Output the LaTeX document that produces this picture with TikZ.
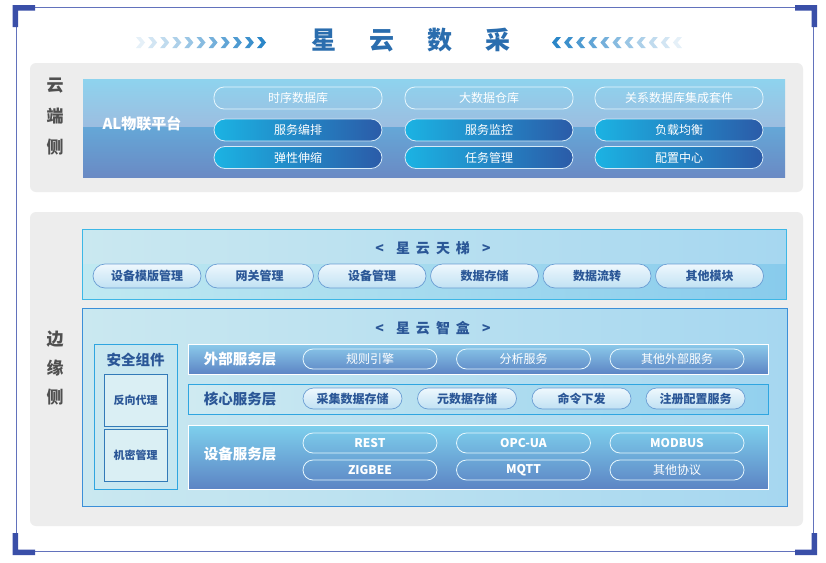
\documentclass[tikz,border=0pt]{standalone}
\usepackage{fontspec}
\newfontfamily\cjk{Noto Sans CJK SC}
\definecolor{brk}{HTML}{3A4FA8}
\definecolor{fline}{HTML}{6272BC}
\definecolor{panel}{HTML}{EDEDED}
\definecolor{ttl}{HTML}{2A6DAE}
\definecolor{chev}{HTML}{2A86C8}
\definecolor{side}{HTML}{505050}
\definecolor{dkb}{HTML}{2B5797}
\definecolor{pillL}{HTML}{1BB3E3}
\definecolor{pillR}{HTML}{2B5BA8}
\definecolor{pillB}{HTML}{D5EAF8}
\definecolor{cloudA}{HTML}{8ED3EE}
\definecolor{cloudB}{HTML}{9CBDE0}
\definecolor{cloudC}{HTML}{65A7D7}
\definecolor{cloudD}{HTML}{6A8AC4}
\definecolor{lbL}{HTML}{CAE8F0}
\definecolor{lbR}{HTML}{A6D7F0}
\definecolor{lbR2}{HTML}{88CBEC}
\definecolor{cyanB}{HTML}{3DB7E6}
\definecolor{blueB}{HTML}{3B8FD8}
\definecolor{lpT}{HTML}{EFF8FD}
\definecolor{lpB}{HTML}{C0E1F3}
\definecolor{lpD}{HTML}{6A9DD3}
\definecolor{barT}{HTML}{8CCBEB}
\definecolor{barB}{HTML}{5C84C4}
\definecolor{coreR}{HTML}{92D0EE}
\tikzset{
  every node/.style={inner sep=0pt, outer sep=0pt},
  frm/.style={draw=fline, line width=1pt},
  bracket/.style={fill=brk},
  sidelbl/.style={text=side, align=center, font=\cjk\bfseries\fontsize{17}{31}\selectfont},
  outpill/.style={draw=#1, line width=0.8pt, rounded corners=10pt, text=white,
     font=\cjk\fontsize{12}{12}\selectfont},
  outpill/.default={white!90!cyan},
  fillpill/.style={draw=pillB, line width=0.8pt, rounded corners=11pt, text=white,
     left color=pillL, right color=pillR, minimum width=168pt, minimum height=22pt,
     font=\cjk\fontsize{12}{12}\selectfont},
  litepill/.style={draw=lpD, line width=0.7pt, rounded corners=11pt, text=dkb,
     top color=lpT, bottom color=lpB, font=\cjk\bfseries\fontsize{12}{12}\selectfont},
  sectitle/.style={text=dkb, font=\cjk\bfseries\fontsize{14}{14}\selectfont},
  layerlbl/.style={font=\cjk\bfseries\fontsize{14.5}{14.5}\selectfont},
  secbox/.style={draw=blueB!85!black, line width=0.8pt, fill=lbL!70!white,
     minimum width=63pt, minimum height=52pt, text=dkb,
     font=\cjk\bfseries\fontsize{11}{11}\selectfont},
}
\begin{document}
\begin{tikzpicture}[x=1pt,y=-1pt]
\useasboundingbox (0,0) rectangle (826,562);
\fill[white] (0,0) rectangle (826,562);
% frame
\draw[frm] (35,7.5) -- (795,7.5);
\draw[frm] (35,551.5) -- (795,551.5);
\draw[frm] (16,27) -- (16,533);
\draw[frm] (813.5,27) -- (813.5,533);
\fill[bracket] (12.5,5) -- (35,5) -- (35,10.5) -- (18,10.5) -- (18,27) -- (12.5,27) -- cycle;
\fill[bracket] (817,5) -- (795,5) -- (795,10.5) -- (811.5,10.5) -- (811.5,27) -- (817,27) -- cycle;
\fill[bracket] (12.5,555) -- (35,555) -- (35,549.5) -- (18,549.5) -- (18,533) -- (12.5,533) -- cycle;
\fill[bracket] (817,555) -- (795,555) -- (795,549.5) -- (811.5,549.5) -- (811.5,533) -- (817,533) -- cycle;
% title
\node[text=ttl, font=\cjk\bfseries\fontsize{25}{25}\selectfont] (title) at (411,40)
  {星\hspace{33pt}云\hspace{33pt}数\hspace{33pt}采};
\foreach \i in {0,...,10}{
  \pgfmathsetmacro{\op}{0.12+0.088*\i}
  \pgfmathsetmacro{\xa}{136+12.1*\i}
  \fill[chev, opacity=\op] (\xa,37) -- (\xa+4.5,37) -- (\xa+9,42.5) -- (\xa+4.5,48) -- (\xa,48) -- (\xa+4.5,42.5) -- cycle;
  \pgfmathsetmacro{\xb}{552+12.1*\i}
  \pgfmathsetmacro{\oq}{1-0.088*\i}
  \fill[chev, opacity=\oq] (\xb,42.5) -- (\xb+4.5,37) -- (\xb+9,37) -- (\xb+4.5,42.5) -- (\xb+9,48) -- (\xb+4.5,48) -- cycle;
}
% gray panels
\fill[panel, rounded corners=6pt] (30,63) rectangle (803,192);
\fill[panel, rounded corners=6pt] (30,212) rectangle (803,526);
\node[sidelbl] (cloudlbl) at (55,117) {云\\端\\侧};
\node[sidelbl, font=\cjk\bfseries\fontsize{17}{29}\selectfont] (edgelbl) at (55,368) {边\\缘\\侧};
% cloud panel
\shade[top color=cloudA, bottom color=cloudB] (83,79) rectangle (785,127);
\shade[top color=cloudC, bottom color=cloudD] (83,127) rectangle (785,177);
\node[text=white, font=\cjk\bfseries\fontsize{15}{15}\selectfont] (al) at (142,124) {AL物联平台};
\node[outpill, minimum width=168pt, minimum height=22pt] (c11) at (298,98) {时序数据库};
\node[outpill, minimum width=168pt, minimum height=22pt] (c12) at (489,98) {大数据仓库};
\node[outpill, minimum width=168pt, minimum height=22pt] (c13) at (679,98) {关系数据库集成套件};
\node[fillpill] (c21) at (298,130) {服务编排};
\node[fillpill] (c22) at (489,130) {服务监控};
\node[fillpill] (c23) at (679,130) {负载均衡};
\node[fillpill] (c31) at (298,157.5) {弹性伸缩};
\node[fillpill] (c32) at (489,157.5) {任务管理};
\node[fillpill] (c33) at (679,157.5) {配置中心};
% tianti
\shade[left color=lbL, right color=lbR] (82,229) rectangle (786,299);
\shade[left color=lbL!95!cyan, right color=lbR2] (82,264) rectangle (786,299);
\draw[cyanB, line width=1pt] (82,229) rectangle (786,299);
\node[sectitle] (tt) at (433,248) {<\hspace{12pt}星\hspace{6pt}云\hspace{6pt}天\hspace{6pt}梯\hspace{12pt}>};
\foreach \t [count=\k from 0] in {设备模版管理,网关管理,设备管理,数据存储,数据流转,其他模块}{
  \node[litepill, minimum width=108pt, minimum height=24pt, rounded corners=12pt] (tp\k) at (147+112.5*\k,276) {\t};
}
% zhihe
\shade[left color=lbL, right color=lbR] (82,308) rectangle (787,506);
\draw[blueB, line width=1pt] (82,308) rectangle (787,506);
\node[sectitle] (zh) at (433,328) {<\hspace{12pt}星\hspace{6pt}云\hspace{6pt}智\hspace{6pt}盒\hspace{12pt}>};
% security
\draw[blueB!80!cyan, line width=0.9pt] (94,344) rectangle (177,489);
\node[text=dkb, font=\cjk\bfseries\fontsize{14.5}{14.5}\selectfont] (aq) at (135.5,360) {安全组件};
\node[secbox] (fx) at (135.5,400) {反向代理};
\node[secbox] (jm) at (135.5,455) {机密管理};
% external layer
\shade[top color=barT, bottom color=barB] (188,344) rectangle (768,374);
\draw[white, line width=0.8pt] (188,344) rectangle (768,374);
\node[layerlbl, text=white] (wb) at (240,359) {外部服务层};
\node[outpill, minimum width=134pt, minimum height=20pt] (w1) at (370,359) {规则引擎};
\node[outpill, minimum width=134pt, minimum height=20pt] (w2) at (523.5,359) {分析服务};
\node[outpill, minimum width=134pt, minimum height=20pt] (w3) at (677,359) {其他外部服务};
% core layer
\shade[left color=lbL!90!white, right color=coreR] (188,384) rectangle (768,414);
\draw[blueB!80!cyan, line width=0.8pt] (188,384) rectangle (768,414);
\node[layerlbl, text=dkb] (hx) at (240,399) {核心服务层};
\node[litepill, minimum width=99pt, minimum height=21pt, rounded corners=10.5pt] (h1) at (352.5,398.5) {采集数据存储};
\node[litepill, minimum width=99pt, minimum height=21pt, rounded corners=10.5pt] (h2) at (467,398.5) {元数据存储};
\node[litepill, minimum width=99pt, minimum height=21pt, rounded corners=10.5pt] (h3) at (581.5,398.5) {命令下发};
\node[litepill, minimum width=99pt, minimum height=21pt, rounded corners=10.5pt] (h4) at (695.5,398.5) {注册配置服务};
% device layer
\shade[top color=barT!90!cyan, bottom color=barB] (188,425) rectangle (768,489);
\draw[white, line width=0.8pt] (188,425) rectangle (768,489);
\node[layerlbl, text=white] (sb) at (240,454) {设备服务层};
\tikzset{dpill/.style={outpill, minimum width=134pt, minimum height=20pt, font=\cjk\bfseries\fontsize{12}{12}\selectfont}}
\node[dpill] (d1) at (370,443) {REST};
\node[dpill] (d2) at (523.5,443) {OPC-UA};
\node[dpill] (d3) at (677,443) {MODBUS};
\node[dpill] (d4) at (370,470) {ZIGBEE};
\node[dpill] (d5) at (523.5,470) {MQTT};
\node[dpill, font=\cjk\fontsize{12}{12}\selectfont] (d6) at (677,470) {其他协议};
\end{tikzpicture}
\end{document}
